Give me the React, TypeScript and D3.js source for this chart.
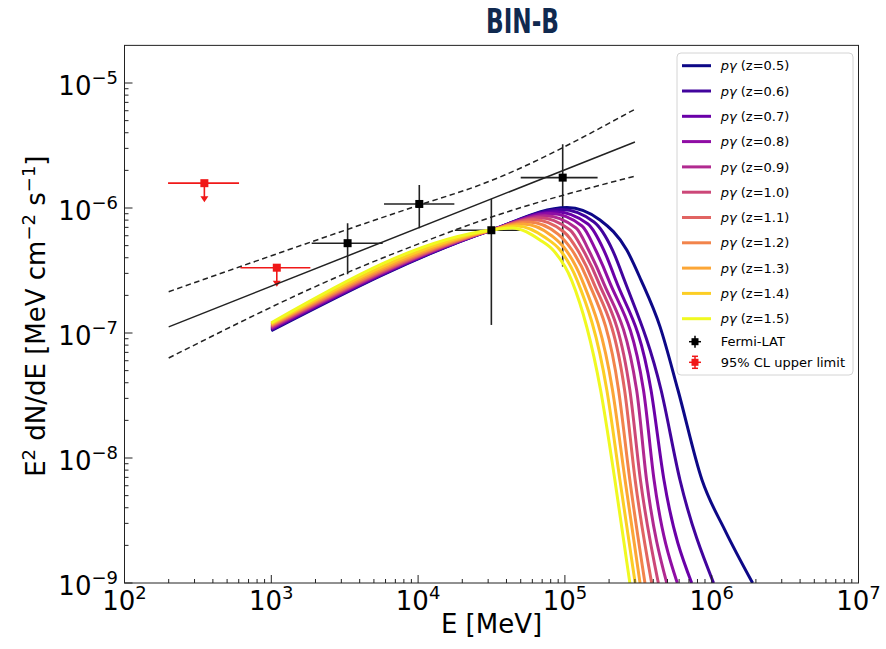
import React from 'react';
import * as d3 from 'd3';

const W = 886;
const H = 649;
const TITLE = 'BIN-B';
const X_LABEL = 'E [MeV]';

const X_DOMAIN: [number, number] = [1e2, 1e7];
const Y_DOMAIN: [number, number] = [1e-9, 2e-5];
const X_TICK_EXPS = [2, 3, 4, 5, 6, 7];
const Y_TICK_EXPS = [-9, -8, -7, -6, -5];

const REDSHIFTS = [0.5, 0.6, 0.7, 0.8, 0.9, 1.0, 1.1, 1.2, 1.3, 1.4, 1.5];

// model curves: [E (MeV), E^2 dN/dE (MeV cm^-2 s^-1)]
const MODEL_Z05 = [[1000, 1.042e-7], [31700, 6.67e-7], [1.033e5, 1.009e-6], [1.734e5, 8.02e-7], [2.64e5, 4.61e-7], [3.3e5, 2.65e-7], [4.45e5, 1.12e-7], [5.89e5, 3.5e-8], [8.59e5, 6.67e-9], [1.23e6, 2.65e-9], [1.9e6, 1e-9]];
const MODEL_Z06 = [[1000, 1.058e-7], [31700, 6.67e-7], [9.48e4, 9.73e-7], [1.578e5, 7.73e-7], [2.11e5, 4.61e-7], [2.54e5, 2.65e-7], [4.52e5, 3.5e-8], [6.08e5, 6.67e-9], [1.03e6, 1e-9]];
const MODEL_Z07 = [[1000, 1.073e-7], [31700, 6.67e-7], [8.69e4, 9.35e-7], [1.436e5, 7.45e-7], [1.84e5, 4.61e-7], [2.22e5, 2.65e-7], [3.86e5, 3.5e-8], [4.73e5, 6.67e-9], [7.31e5, 1e-9]];
const MODEL_Z08 = [[1000, 1.089e-7], [31700, 6.67e-7], [7.98e4, 9.02e-7], [1.308e5, 7.18e-7], [1.62e5, 4.61e-7], [1.99e5, 2.65e-7], [3.43e5, 3.5e-8], [4.05e5, 6.67e-9], [5.83e5, 1e-9]];
const MODEL_Z09 = [[1000, 1.105e-7], [31700, 6.67e-7], [7.31e4, 8.67e-7], [1.191e5, 6.92e-7], [1.45e5, 4.61e-7], [1.8e5, 2.65e-7], [3.08e5, 3.5e-8], [3.6e5, 6.67e-9], [4.94e5, 1e-9]];
const MODEL_Z10 = [[1000, 1.122e-7], [31700, 6.67e-7], [6.71e4, 8.36e-7], [1.084e5, 6.67e-7], [1.33e5, 4.61e-7], [1.67e5, 2.65e-7], [2.77e5, 3.5e-8], [3.27e5, 6.67e-9], [4.33e5, 1e-9]];
const MODEL_Z11 = [[1000, 1.138e-7], [31700, 6.67e-7], [6.15e4, 8.05e-7], [9.86e4, 6.43e-7], [1.22e5, 4.61e-7], [1.54e5, 2.65e-7], [2.55e5, 3.5e-8], [3.01e5, 6.67e-9], [3.9e5, 1e-9]];
const MODEL_Z12 = [[1000, 1.155e-7], [31700, 6.67e-7], [5.65e4, 7.74e-7], [8.98e4, 6.19e-7], [1.117e5, 4.61e-7], [1.43e5, 2.65e-7], [2.32e5, 3.5e-8], [2.77e5, 6.67e-9], [3.51e5, 1e-9]];
const MODEL_Z13 = [[1000, 1.172e-7], [31700, 6.67e-7], [5.18e4, 7.46e-7], [8.17e4, 5.97e-7], [1.018e5, 4.61e-7], [1.31e5, 2.65e-7], [2.11e5, 3.5e-8], [2.57e5, 6.67e-9], [3.25e5, 1e-9]];
const MODEL_Z14 = [[1000, 1.19e-7], [31700, 6.67e-7], [4.75e4, 7.18e-7], [7.43e4, 5.75e-7], [9.27e4, 4.61e-7], [1.21e5, 2.65e-7], [1.93e5, 3.5e-8], [2.37e5, 6.67e-9], [3.01e5, 1e-9]];
const MODEL_Z15 = [[1000, 1.208e-7], [31700, 6.67e-7], [4.37e4, 6.92e-7], [6.76e4, 5.55e-7], [8.3e4, 4.61e-7], [1.11e5, 2.65e-7], [1.75e5, 3.5e-8], [2.19e5, 6.67e-9], [2.77e5, 1e-9]];
const MODEL_CURVES = [MODEL_Z05, MODEL_Z06, MODEL_Z07, MODEL_Z08, MODEL_Z09, MODEL_Z10, MODEL_Z11, MODEL_Z12, MODEL_Z13, MODEL_Z14, MODEL_Z15];

// Fermi-LAT points
const FERMI_E = [3310, 10190, 31550, 96600];
const FERMI_E_LO = [1884, 5860, 17800, 50000];
const FERMI_E_HI = [5740, 17660, 50000, 167000];
const FERMI_FLUX = [5.23e-7, 1.077e-6, 6.64e-7, 1.75e-6];
const FERMI_FLUX_LO = [2.95e-7, 6.9e-7, 1.16e-7, 3.4e-7];
const FERMI_FLUX_HI = [7.55e-7, 1.53e-6, 1.18e-6, 3.24e-6];

// 95% CL upper limits
const UL_E = [350, 1090];
const UL_E_LO = [198, 616];
const UL_E_HI = [603, 1845];
const UL_FLUX = [1.58e-6, 3.33e-7];

// best-fit power law and its envelope
const PL_E = [200, 3e5];
const PL_FLUX = [1.12e-7, 3.37e-6];
const ENV_UP_E = [200, 1.03e4, 2.64e4, 3e5];
const ENV_UP_FLUX = [2.14e-7, 1.06e-6, 1.53e-6, 6.17e-6];
const ENV_LO_E = [200, 3620, 1.03e4, 2.64e4, 3e5];
const ENV_LO_FLUX = [6.31e-8, 3.19e-7, 5.22e-7, 7.87e-7, 1.8e-6];

const FONT = 'DejaVu Sans, sans-serif';

export default function App() {
  const left = 124.5, right = 858.5, bottom = 583;
  const top = bottom - 125 * Math.log10(Y_DOMAIN[1] / Y_DOMAIN[0]);
  const x = d3.scaleLog().domain(X_DOMAIN).range([left, right]);
  const y = d3.scaleLog().domain(Y_DOMAIN).range([bottom, top]);

  const curveLine = d3.line<number[]>().x(d => x(d[0])).y(d => y(d[1])).curve(d3.curveMonotoneX);
  const zip = (a: number[], b: number[]) => a.map((v, i) => [v, b[i]]);

  const colors = REDSHIFTS.map((_, i) => d3.interpolatePlasma(i / (REDSHIFTS.length - 1)));

  const xMinor: number[] = [];
  for (let k = 2; k < 7; k++) for (let m = 2; m <= 9; m++) xMinor.push(m * 10 ** k);
  const yMinor: number[] = [];
  for (let k = -9; k <= -5; k++) for (let m = 2; m <= 9; m++) { const v = m * 10 ** k; if (v < Y_DOMAIN[1]) yMinor.push(v); }

  const ink = '#222';
  const legX = 677, legY = 53;
  const rowY = (i: number) => 65.7 + 25.3 * i;

  return (
    <svg width={W} height={H} style={{ position: 'absolute', left: 0, top: 0, background: '#fff' }} fontFamily={FONT}>
      <defs>
        <clipPath id="plotclip">
          <rect x={left} y={top} width={right - left} height={bottom - top} />
        </clipPath>
      </defs>
      <rect x={0} y={0} width={W} height={H} fill="#fff" />

      {/* title */}
      <text x={522.5} y={33} textAnchor="middle" fontSize={34} fontWeight="bold" fill="#10294f"
        fontFamily="Liberation Sans Narrow, DejaVu Sans Condensed, Roboto Condensed, sans-serif" style={{ fontStretch: 'condensed' }}
        textLength={73} lengthAdjust="spacingAndGlyphs">{TITLE}</text>

      <g clipPath="url(#plotclip)">
        {/* Fermi-LAT error bars (under the model curves) */}
        {FERMI_E.map((e, i) => (
          <g key={'f' + i} stroke={ink} strokeWidth={1.6}>
            <line x1={x(FERMI_E_LO[i])} x2={x(FERMI_E_HI[i])} y1={y(FERMI_FLUX[i])} y2={y(FERMI_FLUX[i])} />
            <line x1={x(e)} x2={x(e)} y1={y(FERMI_FLUX_LO[i])} y2={y(FERMI_FLUX_HI[i])} />
          </g>
        ))}
        {/* upper limits */}
        {UL_E.map((e, i) => {
          const cx = x(e), cy = y(UL_FLUX[i]);
          return (
            <g key={'u' + i}>
              <line x1={x(UL_E_LO[i])} x2={x(UL_E_HI[i])} y1={cy} y2={cy} stroke="#f01818" strokeWidth={1.6} />
              <line x1={cx} x2={cx} y1={cy} y2={cy + 14} stroke="#f01818" strokeWidth={1.6} />
              <path d={`M${cx - 4},${cy + 13} L${cx + 4},${cy + 13} L${cx},${cy + 19} Z`} fill="#f01818" />
              <rect x={cx - 4} y={cy - 4} width={8} height={8} fill="#f01818" />
            </g>
          );
        })}

        {/* model curves */}
        {MODEL_CURVES.map((c, i) => (
          <path key={'m' + i} d={curveLine(c) || ''} fill="none" stroke={colors[i]} strokeWidth={3} />
        ))}

        {/* power law fit and envelope */}
        <path d={curveLine(zip(PL_E, PL_FLUX)) || ''} fill="none" stroke={ink} strokeWidth={1.5} />
        <path d={curveLine(zip(ENV_UP_E, ENV_UP_FLUX)) || ''} fill="none" stroke={ink} strokeWidth={1.5} strokeDasharray="5.5,3.5" />
        <path d={curveLine(zip(ENV_LO_E, ENV_LO_FLUX)) || ''} fill="none" stroke={ink} strokeWidth={1.5} strokeDasharray="5.5,3.5" />

        {/* Fermi-LAT markers */}
        {FERMI_E.map((e, i) => (
          <rect key={'fm' + i} x={x(e) - 4} y={y(FERMI_FLUX[i]) - 4} width={8} height={8} fill="#000" />
        ))}
      </g>

      {/* frame */}
      <rect x={left} y={top} width={right - left} height={bottom - top} fill="none" stroke={ink} strokeWidth={1} />

      {/* x ticks */}
      {X_TICK_EXPS.map(e => (
        <g key={'xt' + e}>
          <line x1={x(10 ** e)} x2={x(10 ** e)} y1={bottom} y2={bottom - 8} stroke={ink} />
          <text x={x(10 ** e)} y={bottom + 27} textAnchor="middle" fontSize={26} fill="#000">10<tspan dy={-11} fontSize={18}>{e}</tspan></text>
        </g>
      ))}
      {xMinor.map(v => <line key={'xm' + v} x1={x(v)} x2={x(v)} y1={bottom} y2={bottom - 4} stroke={ink} />)}

      {/* y ticks */}
      {Y_TICK_EXPS.map(e => (
        <g key={'yt' + e}>
          <line x1={left} x2={left + 8} y1={y(10 ** e)} y2={y(10 ** e)} stroke={ink} />
          <text x={118} y={y(10 ** e) + 11.7} textAnchor="end" fontSize={26} fill="#000">10<tspan dy={-11} fontSize={18}>{'\u2212' + Math.abs(e)}</tspan></text>
        </g>
      ))}
      {yMinor.map(v => <line key={'ym' + v} x1={left} x2={left + 4} y1={y(v)} y2={y(v)} stroke={ink} />)}

      {/* axis labels */}
      <text x={(left + right) / 2} y={633} textAnchor="middle" fontSize={26} fill="#000">{X_LABEL}</text>
      <text transform={`translate(45, ${(top + bottom) / 2 + 2}) rotate(-90)`} textAnchor="middle" fontSize={26} fill="#000">
        E<tspan dy={-10} fontSize={18}>2</tspan><tspan dy={10}> dN/dE [MeV cm</tspan><tspan dy={-10} fontSize={18}>{'\u22122'}</tspan><tspan dy={10}> s</tspan><tspan dy={-10} fontSize={18}>{'\u22121'}</tspan><tspan dy={10}>]</tspan>
      </text>

      {/* legend */}
      <rect x={legX} y={legY} width={176} height={322} rx={4} fill="#fff" fillOpacity={0.85} stroke="#d4d4d4" strokeWidth={1} />
      {REDSHIFTS.map((z, i) => (
        <g key={'l' + i}>
          <line x1={682} x2={711} y1={rowY(i)} y2={rowY(i)} stroke={colors[i]} strokeWidth={3} />
          <text x={720.7} y={rowY(i) + 4.6} fontSize={13} fill="#000"><tspan fontStyle="italic">pγ</tspan> (z={z.toFixed(1)})</text>
        </g>
      ))}
      <g>
        <line x1={689} x2={701} y1={341.7} y2={341.7} stroke="#000" strokeWidth={1.5} />
        <line x1={695} x2={695} y1={335.7} y2={347.7} stroke="#000" strokeWidth={1.5} />
        <rect x={691.5} y={338.2} width={7} height={7} fill="#000" />
        <text x={720.7} y={346.3} fontSize={13} fill="#000">Fermi-LAT</text>
      </g>
      <g>
        <line x1={689} x2={701} y1={362.3} y2={362.3} stroke="#f01818" strokeWidth={1.5} />
        <line x1={695} x2={695} y1={356.3} y2={368.3} stroke="#f01818" strokeWidth={1.5} />
        <line x1={692} x2={698} y1={356.3} y2={356.3} stroke="#f01818" strokeWidth={1.5} />
        <line x1={692} x2={698} y1={368.3} y2={368.3} stroke="#f01818" strokeWidth={1.5} />
        <rect x={691.5} y={358.8} width={7} height={7} fill="#f01818" />
        <text x={720.7} y={366.9} fontSize={13} fill="#000">95% CL upper limit</text>
      </g>
    </svg>
  );
}
